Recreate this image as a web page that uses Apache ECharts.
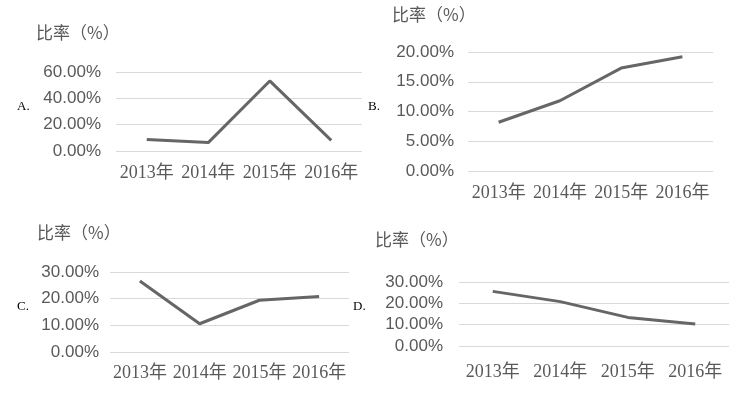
<!DOCTYPE html>
<html>
<head>
<meta charset="utf-8">
<script src="https://cdn.jsdelivr.net/npm/echarts@6/dist/echarts.min.js"></script>
<style>html,body{margin:0;padding:0;background:#fff;}#c{width:737px;height:393px;}</style>
</head>
<body>
<div id="c"></div>
<script>
var categories = ['2013年', '2014年', '2015年', '2016年'];
var valuesA = [8.7, 6.4, 53.2, 8.1];
var valuesB = [8.2, 11.8, 17.3, 19.2];
var valuesC = [26.6, 10.6, 19.4, 20.8];
var valuesD = [25.6, 20.8, 13.4, 10.3];
var axisTitle = '比率（%）';
var panelLetters = ['A.', 'B.', 'C.', 'D.'];

var grids = [
  {left: 116, top: 72, width: 246, height: 79},
  {left: 468, top: 52, width: 245, height: 119},
  {left: 110, top: 272, width: 239, height: 80},
  {left: 459, top: 282, width: 270, height: 64}
];
var yMax = [60, 20, 30, 30];
var yInt = [20, 5, 10, 10];
var yMargin = [15, 14, 11, 16];
var xMargin = [13, 13, 12, 17];
var seriesData = [valuesA, valuesB, valuesC, valuesD];

var titlePos = [[36, 33], [392, 15], [37, 233], [375, 240]];
var letterPos = [[17, 107], [368, 107], [17, 307], [353, 307]];

var xAxes = [], yAxes = [], series = [], graphics = [];
for (var i = 0; i < 4; i++) {
  xAxes.push({
    type: 'category', gridIndex: i, data: categories, boundaryGap: true,
    axisLine: {show: false}, axisTick: {show: false},
    axisLabel: {color: '#595959', fontSize: 18, fontFamily: '"Liberation Serif", "Noto Sans CJK SC", serif', margin: xMargin[i], interval: 0}
  });
  yAxes.push({
    type: 'value', gridIndex: i, min: 0, max: yMax[i], interval: yInt[i],
    axisLine: {show: false}, axisTick: {show: false},
    splitLine: {lineStyle: {color: '#d9d9d9', width: 1}},
    axisLabel: {color: '#595959', fontSize: 17, fontFamily: '"Liberation Sans", sans-serif', margin: yMargin[i],
      formatter: function (v) { return v.toFixed(2) + '%'; }}
  });
  series.push({
    type: 'line', xAxisIndex: i, yAxisIndex: i, data: seriesData[i],
    symbol: 'none', smooth: false,
    lineStyle: {color: '#666666', width: 3}
  });
  graphics.push({
    type: 'text', x: titlePos[i][0], y: titlePos[i][1],
    style: {text: axisTitle, fill: '#595959', font: '17px "Noto Sans CJK SC"', textVerticalAlign: 'middle'}
  });
  graphics.push({
    type: 'text', x: letterPos[i][0], y: letterPos[i][1],
    style: {text: panelLetters[i], fill: '#000', font: '13px "Liberation Serif"', textVerticalAlign: 'middle'}
  });
}

var chart = echarts.init(document.getElementById('c'), null, {renderer: 'canvas'});
chart.setOption({
  animation: false,
  backgroundColor: '#fff',
  grid: grids,
  xAxis: xAxes,
  yAxis: yAxes,
  series: series,
  graphic: graphics
});
</script>
</body>
</html>
